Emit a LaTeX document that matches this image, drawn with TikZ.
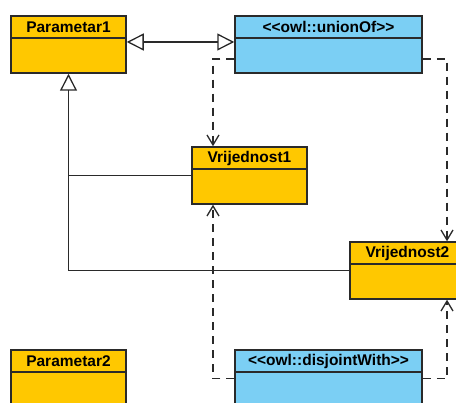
\documentclass[tikz,border=0pt]{standalone}
\usepackage{fontspec}
\setmainfont{Liberation Sans}
\usetikzlibrary{arrows.meta}
\definecolor{clsorange}{HTML}{FFC800}
\definecolor{clsblue}{HTML}{7BCFF4}
\definecolor{edge}{HTML}{2A2A2A}
\newcommand{\lt}{<\kern0pt}
\newcommand{\gt}{>\kern0pt}
\tikzset{
  cls/.style={draw=edge, line width=1.5pt, rectangle, inner sep=0pt,
    minimum height=57pt,
    path picture={\draw[edge, line width=1.3pt]
      ([yshift=-22pt]path picture bounding box.north west) --
      ([yshift=-22pt]path picture bounding box.north east);}},
  narrowcls/.style={cls, minimum width=115pt, fill=clsorange},
  widecls/.style={cls, minimum width=187pt, fill=clsblue},
  title/.style={font=\fontsize{15.5}{18}\selectfont\bfseries, inner sep=0pt},
  inh/.style={draw=edge, line width=1.3pt, -{Triangle[open, length=17pt, width=17pt, line width=1.3pt]}},
  inhboth/.style={draw=edge, line width=1.3pt, {Triangle[open, length=17pt, width=17pt, line width=1.3pt]}-{Triangle[open, length=17pt, width=17pt, line width=1.3pt]}},
  dep/.style={draw=edge, line width=1.3pt, dash pattern=on 8pt off 6pt, -{Straight Barb[length=10pt, width=12pt, line width=1.3pt]}},
}
\begin{document}
\begin{tikzpicture}[x=1pt, y=-1pt]
\useasboundingbox (0,0) rectangle (456,403);
\clip (0,0) rectangle (456,403);
\node[narrowcls] (p1) at (68.5,44.5) {};
\node[widecls] (un) at (328.5,44.5) {};
\node[narrowcls] (v1) at (249.5,175.5) {};
\node[narrowcls] (v2) at (407.5,270.5) {};
\node[narrowcls] (p2) at (68.5,378.5) {};
\node[widecls] (dj) at (328.5,378.5) {};
\node[title] (p1t) at ([yshift=-12pt]p1.north) {Parametar1};
\node[title] (unt) at ([yshift=-12pt]un.north) {\lt\lt owl::unionOf\gt\gt};
\node[title] (v1t) at ([yshift=-12pt]v1.north) {Vrijednost1};
\node[title] (v2t) at ([yshift=-12pt]v2.north) {Vrijednost2};
\node[title] (p2t) at ([yshift=-12pt]p2.north) {Parametar2};
\node[title] (djt) at ([yshift=-12pt]dj.north) {\lt\lt owl::disjointWith\gt\gt};
% generalisation between Parametar1 and unionOf
\draw[inhboth] ([yshift=2.5pt]p1.east) -- ([yshift=2.5pt]p1.east -| un.west);
% generalisation of Vrijednost1/2 to Parametar1
\draw[edge, line width=1.3pt] (v1.west) -- (v1.west -| p1.south);
\draw[inh] (v2.west) -| (p1.south);
% dependencies from unionOf
\draw[dep] ([yshift=-14.5pt]un.west) -| ([xshift=-36.5pt]v1.north);
\draw[dep] ([yshift=-14.5pt]un.east) -| ([xshift=39.5pt]v2.north);
% dependencies from disjointWith
\draw[dep] (dj.west) -| ([xshift=-36.5pt]v1.south);
\draw[dep] (dj.east) -| ([xshift=39.5pt]v2.south);
\end{tikzpicture}
\end{document}
